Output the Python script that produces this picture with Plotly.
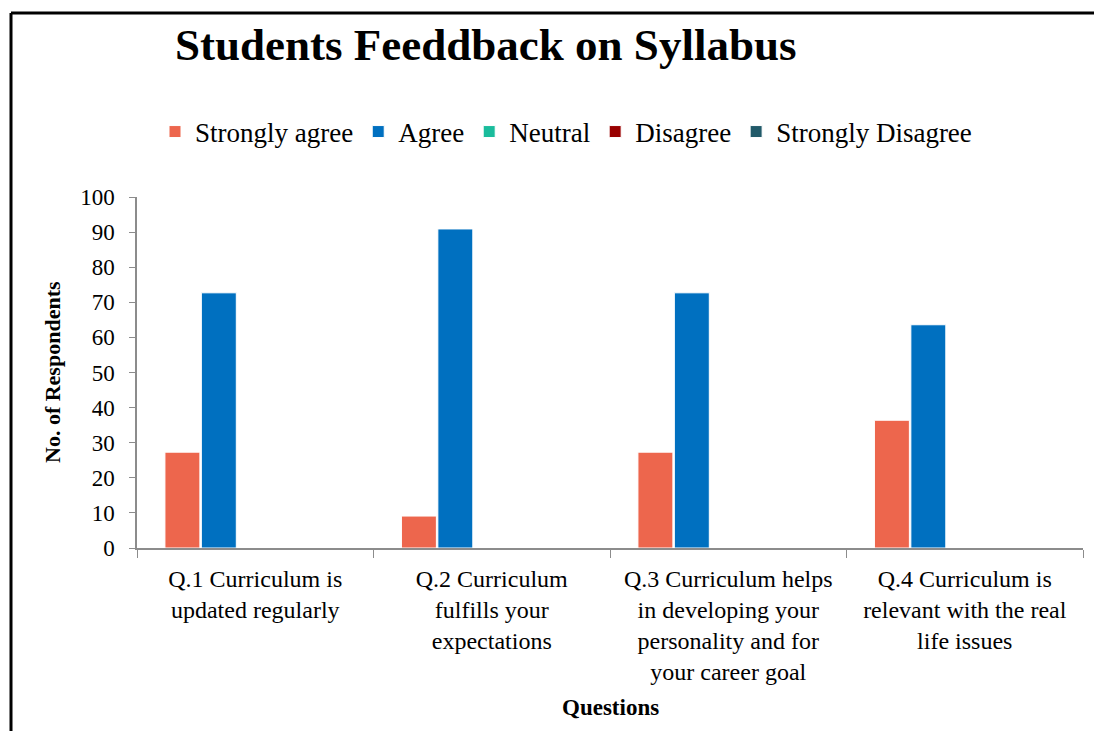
"""Students feedback on syllabus - grouped bar chart."""

import plotly.graph_objects as go

questions = [
    "Q.1 Curriculum is<br>updated regularly",
    "Q.2 Curriculum<br>fulfills your<br>expectations",
    "Q.3 Curriculum helps<br>in developing your<br>personality and for<br>your career goal",
    "Q.4 Curriculum is<br>relevant with the real<br>life issues",
]
strongly_agree = [27.3, 9.1, 27.3, 36.4]
agree = [72.7, 90.9, 72.7, 63.6]
neutral = [0, 0, 0, 0]
disagree = [0, 0, 0, 0]
strongly_disagree = [0, 0, 0, 0]

series_names = ["Strongly agree", "Agree", "Neutral", "Disagree", "Strongly Disagree"]
series_values = [strongly_agree, agree, neutral, disagree, strongly_disagree]
series_colors = ["#ED664D", "#0070C0", "#1ABC9C", "#990000", "#215A69"]

OFF = 8  # page body margin of the html page
W, H = 1102 - OFF, 731 - OFF
L, R, T, B = 137 - OFF, 19, 197 - OFF, 183
PW, PH = W - L - R, H - T - B

font = "Liberation Serif, Times New Roman, serif"

fig = go.Figure()
for name, vals, col in zip(series_names, series_values, series_colors):
    fig.add_trace(
        go.Bar(
            x=questions,
            y=vals,
            name=name,
            marker_color=col,
            marker_line_color="white",
            marker_line_width=1,
        )
    )


def px_x(px):
    # screen pixel -> plot paper coordinate
    return (px - OFF - L) / PW


def px_y(py):
    return (H - B - (py - OFF)) / PH


fig.update_layout(
    width=W,
    height=H,
    margin=dict(l=L, r=R, t=T, b=B),
    paper_bgcolor="white",
    plot_bgcolor="white",
    font=dict(family=font, size=24, color="black"),
    barmode="group",
    bargap=0.23,
    bargroupgap=0.04,
    showlegend=True,
    legend=dict(
        orientation="h",
        x=(566 - OFF) / W,
        xanchor="center",
        y=1 - (132 - OFF) / H,
        yanchor="middle",
        xref="container",
        yref="container",
        font=dict(family=font, size=27, color="black"),
        itemwidth=30,
        traceorder="normal",
    ),
    xaxis=dict(
        showline=True,
        linecolor="#8C8C8C",
        linewidth=1.5,
        ticks="outside",
        tickson="boundaries",
        ticklen=8,
        tickcolor="#8C8C8C",
        ticklabelstandoff=8,
        tickfont=dict(family=font, size=24, color="black"),
    ),
    yaxis=dict(
        range=[0, 100],
        dtick=10,
        showgrid=False,
        zeroline=False,
        showline=True,
        linecolor="#8C8C8C",
        linewidth=1.5,
        ticks="outside",
        ticklen=6,
        tickcolor="#8C8C8C",
        ticklabelstandoff=10,
        tickfont=dict(family=font, size=23, color="black"),
    ),
)

# title and axis titles placed at the positions of the original picture
fig.add_annotation(
    text="<b>Students Feeddback on Syllabus</b>",
    xref="paper", yref="paper", x=px_x(485), y=px_y(45),
    xanchor="center", yanchor="middle", showarrow=False,
    font=dict(family=font, size=45, color="black"),
)
fig.add_annotation(
    text="<b>Questions</b>",
    xref="paper", yref="paper", x=px_x(610), y=px_y(707),
    xanchor="center", yanchor="middle", showarrow=False,
    font=dict(family=font, size=23, color="black"),
)
fig.add_annotation(
    text="<b>No. of Respondents</b>",
    xref="paper", yref="paper", x=px_x(52), y=px_y(372),
    xanchor="center", yanchor="middle", showarrow=False, textangle=-90,
    font=dict(family=font, size=22, color="black"),
)

# frame lines around the picture (top and left edge)
fig.add_shape(
    type="line", xref="paper", yref="paper",
    x0=px_x(11), x1=px_x(1110), y0=px_y(13), y1=px_y(13),
    line=dict(color="black", width=3),
)
fig.add_shape(
    type="line", xref="paper", yref="paper",
    x0=px_x(11), x1=px_x(11), y0=px_y(13), y1=px_y(740),
    line=dict(color="black", width=3),
)

fig.write_html("out.html")
